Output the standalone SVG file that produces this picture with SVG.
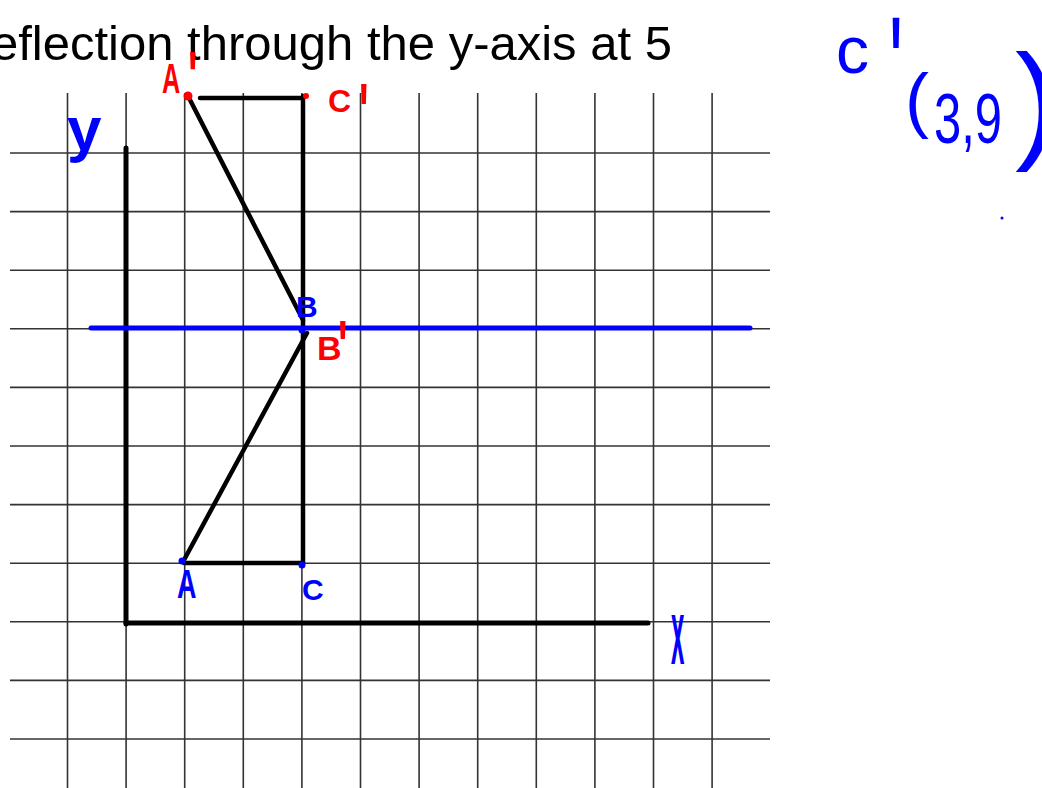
<svg xmlns="http://www.w3.org/2000/svg" width="1042" height="788" viewBox="0 0 1042 788">
<style>
.grid line{stroke:#333;stroke-width:1.6}
.ink{stroke:#000;stroke-width:4.5;stroke-linecap:round;fill:none}
.blue{fill:#0000ff;font-family:"Liberation Sans",Arial,sans-serif}
.red{fill:#ff0000;font-family:"Liberation Sans",Arial,sans-serif;font-weight:bold}
</style>
<rect width="1042" height="788" fill="#fff"/>
<text x="-9" y="60" font-family="Liberation Sans, Arial, sans-serif" font-size="49" fill="#000">eflection through the y-axis at 5</text>
<g id="grid" class="grid">
<line x1="67.5" y1="93" x2="67.5" y2="788"/>
<line x1="126.1" y1="93" x2="126.1" y2="788"/>
<line x1="184.7" y1="93" x2="184.7" y2="788"/>
<line x1="243.3" y1="93" x2="243.3" y2="788"/>
<line x1="301.9" y1="93" x2="301.9" y2="788"/>
<line x1="360.5" y1="93" x2="360.5" y2="788"/>
<line x1="419.1" y1="93" x2="419.1" y2="788"/>
<line x1="477.7" y1="93" x2="477.7" y2="788"/>
<line x1="536.3" y1="93" x2="536.3" y2="788"/>
<line x1="594.9" y1="93" x2="594.9" y2="788"/>
<line x1="653.5" y1="93" x2="653.5" y2="788"/>
<line x1="712.1" y1="93" x2="712.1" y2="788"/>
<line x1="10" y1="153" x2="770" y2="153"/>
<line x1="10" y1="211.6" x2="770" y2="211.6"/>
<line x1="10" y1="270.2" x2="770" y2="270.2"/>
<line x1="10" y1="328.8" x2="770" y2="328.8"/>
<line x1="10" y1="387.4" x2="770" y2="387.4"/>
<line x1="10" y1="446" x2="770" y2="446"/>
<line x1="10" y1="504.6" x2="770" y2="504.6"/>
<line x1="10" y1="563.2" x2="770" y2="563.2"/>
<line x1="10" y1="621.8" x2="770" y2="621.8"/>
<line x1="10" y1="680.4" x2="770" y2="680.4"/>
<line x1="10" y1="739" x2="770" y2="739"/>
</g>
<g id="axes" class="ink">
<line x1="126" y1="148" x2="126" y2="624" stroke-width="5"/>
<line x1="126" y1="623" x2="648" y2="623" stroke-width="5"/>
</g>
<g id="connectors" class="ink">
<line x1="200" y1="98" x2="303" y2="98"/>
<line x1="188" y1="96" x2="303" y2="320"/>
<line x1="303" y1="96" x2="303" y2="563"/>
<line x1="307" y1="333" x2="184" y2="560"/>
<line x1="184" y1="563" x2="303" y2="563"/>
</g>
<g id="mirror-line">
<line x1="91" y1="328" x2="750" y2="328" stroke="#0000ff" stroke-width="5" stroke-linecap="round"/>
</g>
<g id="point-A">
<circle cx="182" cy="561" r="3.5" fill="#0000ff"/>
<text class="blue" transform="translate(177,598) scale(0.75,1.15)" font-size="36" font-weight="bold">A</text>
</g>
<g id="point-C">
<circle cx="302" cy="565" r="3.5" fill="#0000ff"/>
<text class="blue" x="302" y="600" font-size="30" font-weight="bold">C</text>
</g>
<g id="point-B">
<circle cx="302" cy="330" r="3.5" fill="#0000ff"/>
<text class="blue" x="296" y="317" font-size="30" font-weight="bold">B</text>
</g>
<g id="point-A-prime">
<circle cx="188" cy="96" r="4.5" fill="#ff0000"/>
<text class="red" transform="translate(162,93) scale(0.7,1.2)" font-size="36">A</text>
<text class="red" transform="translate(188,99) scale(1,1.7)" font-size="40">'</text>
</g>
<g id="point-C-prime">
<circle cx="306" cy="96" r="3" fill="#ff0000"/>
<text class="red" x="328" y="112" font-size="32">C</text>
<text class="red" transform="translate(359,139) scale(1,2)" font-size="40">'</text>
</g>
<g id="point-B-prime">
<text class="red" x="317" y="360" font-size="34">B</text>
<text class="red" transform="translate(338,371) scale(1,1.8)" font-size="40">'</text>
</g>
<g id="label-y">
<text class="blue" x="67" y="150" font-size="62" font-weight="bold">y</text>
</g>
<g id="label-x">
<text class="blue" transform="translate(671,664) scale(0.6,2.3)" font-size="40" font-weight="bold">x</text>
</g>
<g id="note-c-prime">
<text class="blue" x="836" y="73" font-size="66">c</text>
<text class="blue" transform="translate(890,101) scale(1,2.4)" font-size="50" font-weight="bold">'</text>
</g>
<g id="note-coords">
<text class="blue" x="905" y="124" font-size="72">(</text>
<text class="blue" transform="translate(934,143) scale(0.7,1)" font-size="70">3,9</text>
<text class="blue" x="1015" y="145" font-size="130">)</text>
<circle cx="1002" cy="218" r="1.5" fill="#0000ff"/>
</g>
</svg>
